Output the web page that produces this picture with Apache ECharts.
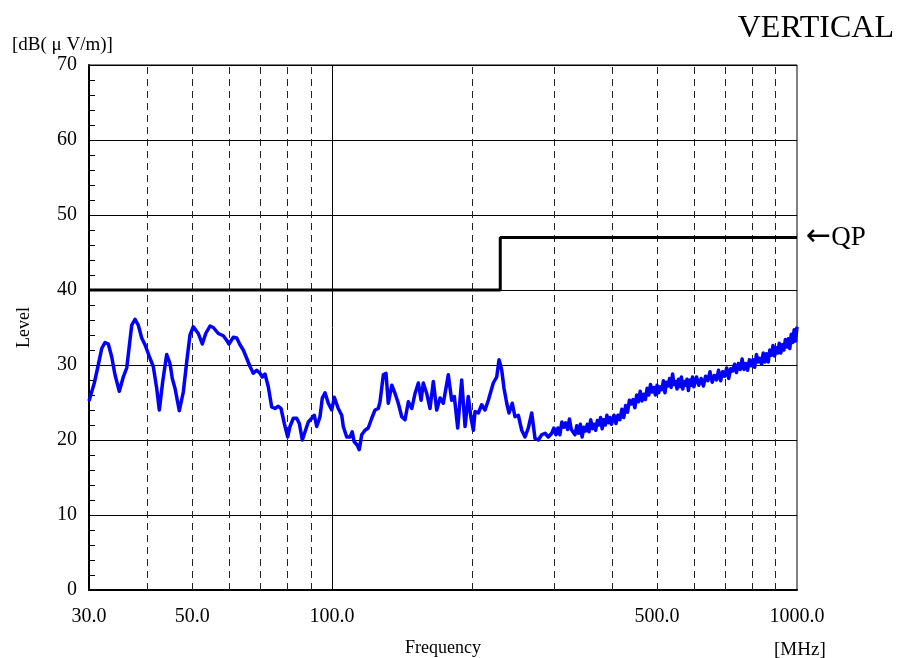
<!DOCTYPE html>
<html>
<head>
<meta charset="utf-8">
<script src="https://cdn.jsdelivr.net/npm/echarts@6/dist/echarts.min.js"></script>
<style>
  html, body { margin: 0; padding: 0; background: #fff; }
  #chart { width: 901px; height: 658px; }
</style>
</head>
<body>
<div id="chart"></div>
<script>
// Measured field strength, vertical polarisation (frequency in MHz, level in dB(uV/m))
const freqMHz = [
  30.0, 30.8, 31.41, 31.95, 32.47, 33.01, 33.57, 34.12, 34.86, 35.55, 36.16, 37.07, 37.68, 38.30, 38.95, 39.59,
  40.58, 41.25, 41.95, 42.50, 43.22, 44.08, 44.81, 45.32, 45.93, 46.92, 47.86, 48.67, 49.47, 50.29, 51.55, 52.58,
  53.48, 54.63, 55.53, 56.92, 58.34, 59.33, 60.01, 61.30, 62.35, 63.38, 64.42, 65.51, 66.59, 67.69, 68.84, 69.98,
  70.78, 71.73, 72.91, 74.15, 75.37, 76.61, 77.65, 78.93, 80.27, 81.19, 82.53, 83.93, 85.02, 86.29, 87.45, 88.89,
  90.40, 91.57, 92.67, 94.19, 95.27, 96.56, 98.15, 99.82, 101.1, 103.1, 104.9, 105.7, 107.5, 109.3, 110.5, 111.5,
  113.3, 114.4, 115.8, 117.7, 119.6, 121.7, 123.7, 125.7, 126.8, 128.9, 130.6, 132.1, 134.4, 136.6, 138.8, 141.2,
  143.5, 145.9, 148.4, 150.8, 153.3, 155.4, 157.1, 159.8, 162.4, 165.1, 167.9, 170.7, 173.5, 177.8, 180.8, 183.2,
  186.3, 190.0, 193.2, 196.3, 199.0, 201.3, 203.0, 206.3, 209.8, 213.3, 216.8, 222.2, 226.0, 228.6, 231.7, 234.3,
  237.5, 240.2, 244.1, 247.4, 251.5, 255.8, 260.0, 264.3, 268.8, 273.2, 277.7, 282.4, 287.1, 291.8, 296.8,
  300, 303, 306, 309, 312, 315, 318, 321, 324, 327, 330, 333, 336, 339, 342, 345, 348, 351, 354, 357,
  360, 363, 366, 369, 372, 375, 378, 381, 384, 387, 390, 393, 396, 399,
  404, 408, 412, 416, 420, 424, 428, 432, 436, 440, 444, 448, 452, 456, 460, 464, 468, 472, 476, 480,
  484, 488, 492, 496, 500, 504, 508, 512, 516, 520, 524, 528, 532, 536, 540, 544, 548, 552, 556, 560,
  564, 568, 572, 576, 580, 584, 588, 592, 596, 600,
  608, 615, 622, 629, 636, 643, 650, 657, 664, 671, 678, 685, 692, 699, 706, 713, 720, 727, 734, 741,
  748, 755, 762, 769, 776, 783, 790, 797, 804, 811, 818, 825, 832, 839, 846, 853, 860, 867, 874, 881,
  888, 895, 902, 909, 916, 923, 930, 937, 944, 951, 958, 965, 972, 979, 986, 993, 1000
];
const levelDb = [
  25.2, 27.6, 30.0, 32.2, 33.0, 32.8, 31.1, 28.7, 26.5, 28.4, 29.6, 35.3, 36.1, 35.3, 33.6, 32.7,
  30.9, 29.8, 26.9, 24.0, 27.8, 31.4, 30.2, 28.2, 26.9, 23.9, 26.4, 30.4, 34.0, 35.1, 34.2, 32.8,
  34.2, 35.2, 35.0, 34.2, 33.9, 33.3, 32.8, 33.7, 33.6, 32.7, 32.0, 30.9, 29.8, 28.9, 29.3, 28.9,
  28.4, 28.8, 27.1, 24.4, 24.2, 24.5, 24.2, 22.2, 20.4, 21.8, 22.9, 22.9, 22.2, 20.0, 21.1, 22.4,
  22.9, 23.3, 21.8, 23.1, 25.6, 26.3, 24.9, 24.0, 25.7, 24.2, 23.3, 21.8, 20.4, 20.4, 21.1, 19.8,
  19.3, 18.7, 20.7, 21.3, 21.6, 22.9, 24.0, 24.2, 25.1, 28.7, 28.9, 24.9, 27.3, 26.2, 24.9, 23.1,
  22.7, 25.1, 24.2, 26.2, 27.6, 25.3, 27.6, 26.2, 24.2, 27.8, 24.0, 25.6, 24.9, 28.7, 25.3, 25.8,
  21.6, 28.0, 21.8, 25.8, 22.9, 21.3, 23.8, 23.6, 24.7, 24.0, 25.3, 27.6, 28.4, 30.7, 29.3, 26.9,
  24.9, 23.6, 24.9, 23.1, 23.3, 21.3, 20.4, 21.6, 23.6, 20.2, 20.0, 20.7, 20.9, 20.4, 20.9,
  21.6, 20.7, 21.6, 20.7, 22.4, 21.7, 22.3, 21.4, 22.8, 21.4, 21.6, 20.7, 21.9, 20.9, 22.1, 20.4, 21.7, 21.2, 22.1, 21.1,
  22.7, 21.5, 22.1, 21.3, 22.6, 22.0, 23.0, 21.5, 22.7, 22.0, 23.3, 22.3, 23.0, 22.1,
  23.3, 22.2, 23.3, 22.7, 24.1, 23.0, 24.6, 23.7, 25.3, 24.8, 25.4, 24.3, 26.0, 25.1, 26.5, 25.2, 26.1, 25.4, 26.9, 26.0,
  27.4, 26.4, 27.0, 26.0, 27.3, 26.3, 27.1, 26.7, 27.9, 26.3, 27.7, 27.2, 28.2, 27.0, 28.8, 27.4, 27.8, 26.8, 28.1, 27.1,
  28.4, 26.8, 27.8, 27.3, 28.1, 26.6, 28.0, 27.3, 28.4, 27.1,
  28.4, 27.3, 28.2, 27.2, 28.5, 27.9, 29.1, 27.7, 28.6, 28.0, 29.3, 27.9, 29.1, 28.5, 29.6, 28.2, 29.5, 29.2, 30.1, 29.0,
  30.2, 29.4, 30.8, 29.4, 30.2, 29.3, 30.7, 29.9, 30.7, 29.7, 31.4, 30.4, 30.9, 30.1, 31.6, 30.4, 31.5, 30.4, 32.0, 31.3,
  32.6, 31.2, 32.3, 31.6, 32.9, 31.6, 32.7, 32.0, 33.4, 32.4, 33.5, 32.2, 34.1, 33.0, 34.7, 33.2, 35.1
];

// QP limit line
const limitFreq = [30, 230, 230, 1000];
const limitDb = [40, 40, 47, 47];

// Frequency grid and labels
const gridFreqDashed = [40, 50, 60, 70, 80, 90, 200, 300, 400, 500, 600, 700, 800, 900];
const gridFreqSolid = [100];
const tickFreqLabels = [30, 50, 100, 500, 1000];

const SERIF = "'Liberation Serif', 'DejaVu Serif', serif";

const chart = echarts.init(document.getElementById('chart'), null, { renderer: 'canvas' });

const gridLines = [
  ...gridFreqDashed.map(f => ({ xAxis: f, lineStyle: { type: [7, 5], color: '#222', width: 1 } })),
  ...gridFreqSolid.map(f => ({ xAxis: f, lineStyle: { type: 'solid', color: '#000', width: 1 } }))
];
const labelLines = tickFreqLabels.map(f => ({
  xAxis: f,
  lineStyle: { width: 0, color: 'rgba(0,0,0,0)' },
  label: {
    show: true,
    position: 'start',
    distance: 17,
    formatter: f.toFixed(1),
    color: '#000',
    fontFamily: SERIF,
    fontSize: 20
  }
}));

chart.setOption({
  animation: false,
  backgroundColor: '#fff',
  title: [
    { text: 'VERTICAL', right: 2, top: 8, textStyle: { fontFamily: SERIF, fontSize: 32, fontWeight: 'normal', color: '#000' } },
    { text: '[dB( μ V/m)]', left: 7, top: 31, textStyle: { fontFamily: SERIF, fontSize: 19, fontWeight: 'normal', color: '#000' } },
    { text: '[MHz]', left: 769, top: 636, textStyle: { fontFamily: SERIF, fontSize: 19, fontWeight: 'normal', color: '#000' } }
  ],
  grid: {
    left: 89, right: 104, top: 65, bottom: 68,
    outerBoundsMode: 'none',
    containLabel: false,
    show: true, borderColor: '#000', borderWidth: 1, backgroundColor: 'transparent'
  },
  xAxis: {
    type: 'log',
    logBase: 10,
    min: 30,
    max: 1000,
    name: 'Frequency',
    nameLocation: 'middle',
    nameGap: 49,
    nameTextStyle: { fontFamily: SERIF, fontSize: 18, color: '#000' },
    axisLine: { show: true, lineStyle: { color: '#000', width: 2 } },
    axisTick: {
      show: true,
      inside: true,
      length: 6,
      customValues: gridFreqDashed.concat(gridFreqSolid),
      lineStyle: { color: '#000', width: 1 }
    },
    axisLabel: { show: false },
    splitLine: { show: false },
    minorTick: { show: false },
    minorSplitLine: { show: false }
  },
  yAxis: {
    type: 'value',
    min: 0,
    max: 70,
    interval: 10,
    name: 'Level',
    nameLocation: 'middle',
    nameGap: 56,
    nameTextStyle: { fontFamily: SERIF, fontSize: 18, color: '#000' },
    axisLine: { show: true, lineStyle: { color: '#000', width: 2 } },
    axisTick: { show: true, inside: true, length: 10, lineStyle: { color: '#000', width: 1 } },
    minorTick: { show: true, splitNumber: 5, length: 6, lineStyle: { color: '#000', width: 1 } },
    axisLabel: { fontFamily: SERIF, fontSize: 20, color: '#000', margin: 12 },
    splitLine: { show: true, lineStyle: { color: '#000', width: 1 } }
  },
  series: [
    {
      name: 'QP limit',
      type: 'line',
      data: limitFreq.map((f, i) => [f, limitDb[i]]),
      showSymbol: false,
      silent: true,
      z: 3,
      lineStyle: { color: '#000', width: 3 },
      endLabel: {
        show: true,
        formatter: '{a|←}{b|QP}',
        distance: 9,
        rich: {
          a: { fontFamily: "'DejaVu Sans', sans-serif", fontSize: 30, color: '#000' },
          b: { fontFamily: SERIF, fontSize: 27, color: '#000' }
        }
      },
      markLine: {
        silent: true,
        symbol: 'none',
        animation: false,
        z: 1,
        label: { show: false },
        data: gridLines.concat(labelLines)
      }
    },
    {
      name: 'Level',
      type: 'line',
      data: freqMHz.map((f, i) => [f, levelDb[i]]),
      showSymbol: false,
      silent: true,
      z: 4,
      lineStyle: { color: '#0000ff', width: 3.5, join: 'round' }
    }
  ]
});
</script>
</body>
</html>
